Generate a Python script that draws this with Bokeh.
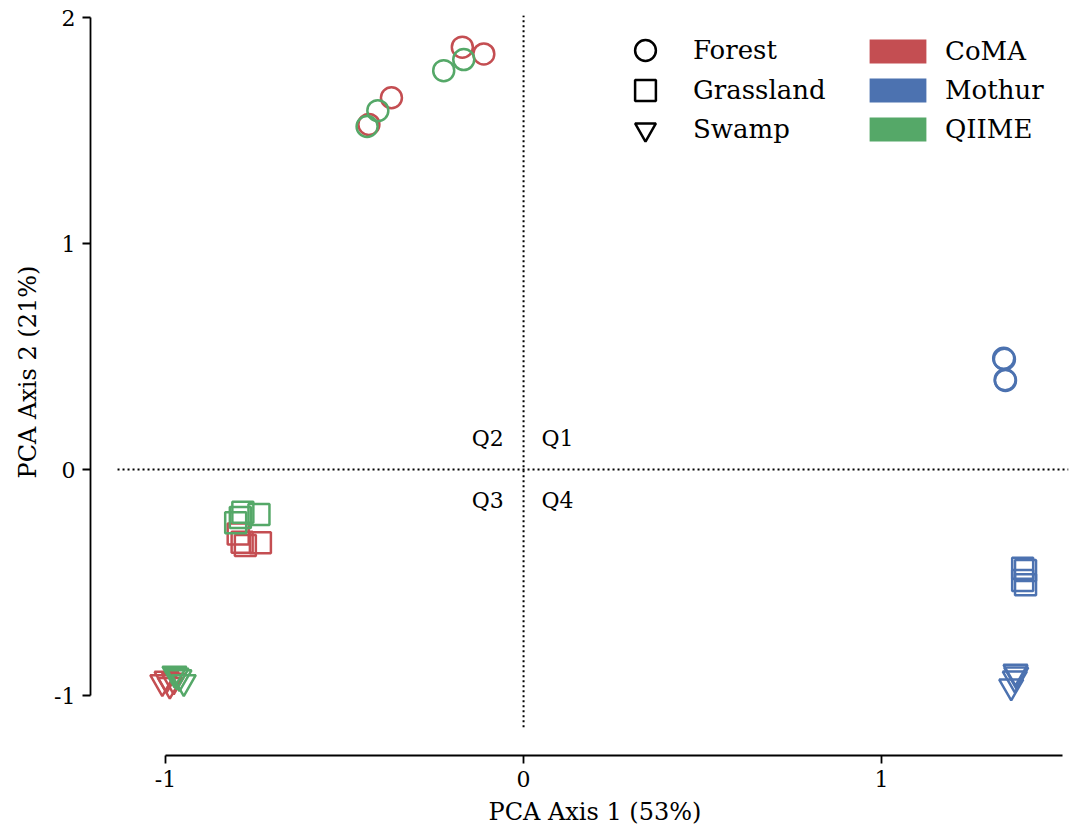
from bokeh.plotting import figure
from bokeh.models import Range1d, FixedTicker, Legend, LegendItem, Label, Title
from bokeh.embed import file_html
from bokeh.resources import INLINE

# ---------------- data ----------------
methods = ["CoMA", "Mothur", "QIIME"]
method_colors = ["#C44E52", "#4C72B0", "#55A868"]
habitats = ["Forest", "Grassland", "Swamp"]
habitat_markers = ["circle", "square", "inverted_triangle"]

coma_forest_x = [-0.171, -0.111, -0.369, -0.432]
coma_forest_y = [1.869, 1.839, 1.645, 1.527]
mothur_forest_x = [1.341, 1.343, 1.346, 1.345]
mothur_forest_y = [0.492, 0.488, 0.394, 0.397]
qiime_forest_x = [-0.167, -0.223, -0.407, -0.437]
qiime_forest_y = [1.814, 1.765, 1.588, 1.518]

coma_grass_x = [-0.797, -0.786, -0.777, -0.735]
coma_grass_y = [-0.285, -0.322, -0.336, -0.324]
mothur_grass_x = [1.394, 1.402, 1.402, 1.394]
mothur_grass_y = [-0.437, -0.447, -0.510, -0.491]
qiime_grass_x = [-0.784, -0.804, -0.739, -0.791]
qiime_grass_y = [-0.189, -0.236, -0.199, -0.212]

coma_swamp_x = [-1.009, -0.988, -0.977, -0.997]
coma_swamp_y = [-0.941, -0.953, -0.934, -0.926]
mothur_swamp_x = [1.374, 1.376, 1.362, 1.372]
mothur_swamp_y = [-0.895, -0.907, -0.960, -0.925]
qiime_swamp_x = [-0.975, -0.961, -0.949, -0.969]
qiime_swamp_y = [-0.903, -0.919, -0.941, -0.912]

x_ticks = [-1, 0, 1]
y_ticks = [-1, 0, 1, 2]
x_label = "PCA Axis 1 (53%)"
y_label = "PCA Axis 2 (21%)"
quadrant_labels = ["Q1", "Q2", "Q3", "Q4"]
quadrant_x = [0.05, -0.055, -0.055, 0.05]
quadrant_y = [0.137, 0.137, -0.137, -0.137]
quadrant_align = ["left", "right", "right", "left"]

# ---------------- layout / style ----------------
FONT = "DejaVu Serif"
XVIEW = (-1.2095, 1.522)
YVIEW = (-1.2655, 2.009)
XLIM = (-1.134, 1.522)
YLIM = (-1.14, 2.01)
XSPINE = (-1, 1.506)
YSPINE = (-1, 2)

data = {
    ("CoMA", "Forest"): (coma_forest_x, coma_forest_y),
    ("Mothur", "Forest"): (mothur_forest_x, mothur_forest_y),
    ("QIIME", "Forest"): (qiime_forest_x, qiime_forest_y),
    ("CoMA", "Grassland"): (coma_grass_x, coma_grass_y),
    ("Mothur", "Grassland"): (mothur_grass_x, mothur_grass_y),
    ("QIIME", "Grassland"): (qiime_grass_x, qiime_grass_y),
    ("CoMA", "Swamp"): (coma_swamp_x, coma_swamp_y),
    ("Mothur", "Swamp"): (mothur_swamp_x, mothur_swamp_y),
    ("QIIME", "Swamp"): (qiime_swamp_x, qiime_swamp_y),
}
marker_sizes = {"circle": 21, "square": 21, "inverted_triangle": 24}

p = figure(
    frame_width=978, frame_height=740,
    x_range=Range1d(*XVIEW), y_range=Range1d(*YVIEW),
    output_backend="svg", toolbar_location=None,
    min_border_left=90, min_border_right=6, min_border_top=15, min_border_bottom=73,
)
p.grid.visible = False
p.outline_line_color = None
p.background_fill_color = "white"

for ax in (p.xaxis[0], p.yaxis[0]):
    ax.axis_line_color = "black"
    ax.axis_line_width = 1.8
    ax.major_tick_line_color = "black"
    ax.major_tick_line_width = 1.8
    ax.major_tick_out = 8
    ax.major_tick_in = 0
    ax.minor_tick_out = 0
    ax.minor_tick_in = 0
    ax.major_label_text_font = FONT
    ax.major_label_text_font_size = "22px"
    ax.major_label_text_color = "black"
    ax.major_label_standoff = 7
    ax.major_label_overrides = {-1: "-1"}

p.xaxis[0].ticker = FixedTicker(ticks=x_ticks)
p.yaxis[0].ticker = FixedTicker(ticks=y_ticks)
p.xaxis[0].bounds = XSPINE
p.yaxis[0].bounds = YSPINE

# axis titles (centred on the inner axes area, hence the offsets)
p.add_layout(Title(text=x_label, align="left", offset=398, standoff=12,
                   text_font=FONT, text_font_size="24px", text_font_style="normal",
                   text_color="black"), "below")
p.add_layout(Title(text=y_label, align="left", offset=277, standoff=19,
                   text_font=FONT, text_font_size="24px", text_font_style="normal",
                   text_color="black"), "left")

# dotted quadrant lines
p.segment(x0=[XLIM[0], 0], y0=[0, YLIM[0]], x1=[XLIM[1], 0], y1=[0, YLIM[1]],
          line_color="black", line_width=2, line_dash="2 3")

for h, m in zip(habitats, habitat_markers):
    for meth, col in zip(methods, method_colors):
        xs, ys = data[(meth, h)]
        p.scatter(x=xs, y=ys, marker=m, size=marker_sizes[m], fill_color=None,
                  line_color=col, line_width=2.5)

for t, qx, qy, qa in zip(quadrant_labels, quadrant_x, quadrant_y, quadrant_align):
    p.add_layout(Label(x=qx, y=qy, text=t, text_align=qa, text_baseline="middle",
                       text_font=FONT, text_font_size="22px", text_color="black"))

# legends (proxy renderers hold a single NaN point so nothing shows in the plot)
nan = float("nan")
marker_legend_bottoms = [679, 639, 600]
for h, m, vy in zip(habitats, habitat_markers, marker_legend_bottoms):
    r = p.scatter(x=[nan], y=[nan], marker=m, size=10, fill_color=None,
                  line_color="black", line_width=2.5)
    p.add_layout(Legend(items=[LegendItem(label=h, renderers=[r])], location=(529, vy),
                        glyph_width=52, glyph_height=52, spacing=0, label_standoff=22,
                        padding=0, margin=0, border_line_alpha=0, background_fill_alpha=0,
                        label_text_font=FONT, label_text_font_size="26px",
                        label_text_color="black"))

color_items = []
for meth, col in zip(methods, method_colors):
    r = p.rect(x=[nan], y=[nan], width=1, height=1, fill_color=col, line_color=None)
    color_items.append(LegendItem(label=meth, renderers=[r]))
leg2 = Legend(items=color_items, location=(772, 611), glyph_width=71, glyph_height=30,
              spacing=9, label_standoff=12, padding=0, margin=0,
              border_line_alpha=0, background_fill_alpha=0,
              label_text_font=FONT, label_text_font_size="26px", label_text_color="black")
p.add_layout(leg2)

open("out.html", "w").write(file_html(p, INLINE))
